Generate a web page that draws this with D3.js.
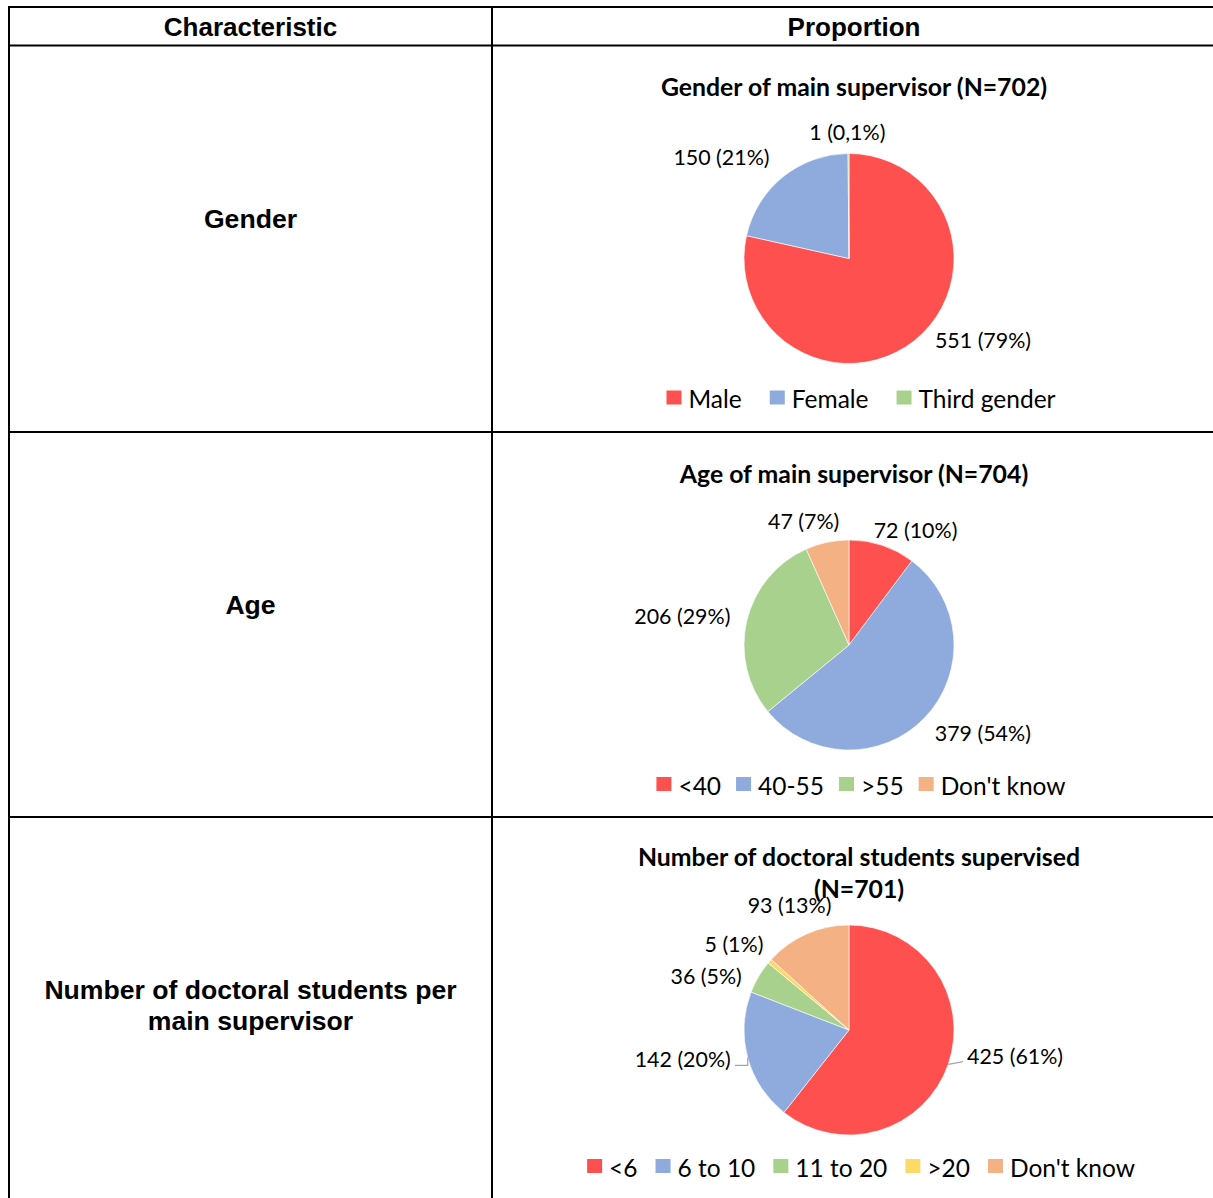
<!DOCTYPE html>
<html>
<head>
<meta charset="utf-8">
<script src="https://cdn.jsdelivr.net/npm/d3@7"></script>
<style>
  html, body { margin: 0; padding: 0; background: #fff; }
  svg { display: block; }
</style>
</head>
<body>
<svg id="chart" width="1213" height="1198"></svg>
<script>
// ---- Data ----
const headers = ["Characteristic", "Proportion"];
const rowLabels = [["Gender"], ["Age"], ["Number of doctoral students per", "main supervisor"]];

const genderTitle = ["Gender of main supervisor (N=702)"];
const genderCats = ["Male", "Female", "Third gender"];
const genderCounts = [551, 150, 1];
const genderLabels = ["551 (79%)", "150 (21%)", "1 (0,1%)"];

const ageTitle = ["Age of main supervisor (N=704)"];
const ageCats = ["<40", "40-55", ">55", "Don't know"];
const ageCounts = [72, 379, 206, 47];
const ageLabels = ["72 (10%)", "379 (54%)", "206 (29%)", "47 (7%)"];

const studentsTitle = ["Number of doctoral students supervised", "(N=701)"];
const studentsCats = ["<6", "6 to 10", "11 to 20", ">20", "Don't know"];
const studentsCounts = [425, 142, 36, 5, 93];
const studentsLabels = ["425 (61%)", "142 (20%)", "36 (5%)", "5 (1%)", "93 (13%)"];

// ---- Palette (Office-style) ----
const RED = "#ff5050", BLUE = "#8faadc", GREEN = "#a9d18e", YELLOW = "#ffd966", ORANGE = "#f4b183";

// ---- Layout ----
const svg = d3.select("#chart");
const tableLeft = 9, colSplit = 492, tableRight = 1216;
const headerTop = 7, headerBottom = 45.5;
const rowBounds = [[45.5, 432], [432, 817], [817, 1233]];
const pieCx = 849, radius = 105;
const legendCx = 861;

// Hand-placed label offsets, relative to the automatic outside-end position
const charts = [
  { title: genderTitle, cats: genderCats, counts: genderCounts, labels: genderLabels,
    colors: [RED, BLUE, GREEN],
    titleX: 854, titleY: 41, pieY: 213, legendY: 352, legendGap: 28,
    nudges: [[32, -18], [-25, -3], [-1, 0]], leaders: [false, false, false] },
  { title: ageTitle, cats: ageCats, counts: ageCounts, labels: ageLabels,
    colors: [RED, BLUE, GREEN, ORANGE],
    titleX: 854, titleY: 41, pieY: 213, legendY: 352, legendGap: 15,
    nudges: [[17, 5], [16, 0], [-8, 0], [-14, 0]], leaders: [false, false, false, false] },
  { title: studentsTitle, cats: studentsCats, counts: studentsCounts, labels: studentsLabels,
    colors: [RED, BLUE, GREEN, YELLOW, ORANGE],
    titleX: 859, titleY: 39, pieY: 213, legendY: 349, legendGap: 18,
    nudges: [[12, -16], [-9, -4], [-13, 10], [-6, -3], [4, -9]], leaders: [true, true, false, false, false] }
];

const labelFont = "Lato, 'Open Sans', sans-serif";
const tableFont = "'Liberation Sans', Arial, sans-serif";

// ---- Table grid ----
const grid = svg.append("g").attr("stroke", "#000").attr("stroke-width", 2);
const hLines = [headerTop, headerBottom, rowBounds[0][1], rowBounds[1][1]];
grid.selectAll("line.h").data(hLines).join("line")
  .attr("x1", tableLeft - 1).attr("x2", tableRight).attr("y1", d => d).attr("y2", d => d);
grid.selectAll("line.v").data([tableLeft, colSplit]).join("line")
  .attr("x1", d => d).attr("x2", d => d).attr("y1", headerTop - 1).attr("y2", 1240);

// Header text
svg.selectAll("text.header").data(headers).join("text")
  .attr("x", (d, i) => i === 0 ? (tableLeft + colSplit) / 2 : (colSplit + tableRight) / 2)
  .attr("y", (headerTop + headerBottom) / 2 + 1)
  .attr("text-anchor", "middle").attr("dominant-baseline", "central")
  .style("font-family", tableFont).style("font-weight", "bold").style("font-size", "26px")
  .text(d => d);

// Row labels
rowLabels.forEach((lines, i) => {
  const [top, bottom] = rowBounds[i];
  const mid = (top + bottom) / 2 - 20;
  const lh = 31;
  const t = svg.append("text")
    .attr("text-anchor", "middle")
    .style("font-family", tableFont).style("font-weight", "bold").style("font-size", "26.6px");
  lines.forEach((ln, j) => {
    t.append("tspan").attr("x", (tableLeft + colSplit) / 2)
      .attr("y", mid + (j - (lines.length - 1) / 2) * lh)
      .attr("dominant-baseline", "central").text(ln);
  });
});

// ---- Pies ----
const pie = d3.pie().sort(null).value(d => d.value);
const arc = d3.arc().innerRadius(0).outerRadius(radius);

charts.forEach((c, ci) => {
  const top = rowBounds[ci][0];
  const g = svg.append("g");
  const color = d3.scaleOrdinal().domain(c.cats).range(c.colors);

  // Title
  const title = g.append("text").attr("text-anchor", "middle")
    .style("font-family", labelFont).style("font-weight", "bold").style("font-size", "24.8px")
    .attr("fill", "#000");
  c.title.forEach((ln, j) => {
    title.append("tspan").attr("x", c.titleX).attr("y", top + c.titleY + j * 32)
      .attr("dominant-baseline", "central").text(ln);
  });

  const data = c.cats.map((cat, i) => ({ cat, value: c.counts[i], label: c.labels[i], i }));
  const arcs = pie(data);
  const cy = top + c.pieY;
  const pg = g.append("g").attr("transform", `translate(${pieCx},${cy})`);

  pg.selectAll("path").data(arcs).join("path")
    .attr("d", arc)
    .attr("fill", d => color(d.data.cat))
    .attr("stroke", "#fff").attr("stroke-width", 0.6);

  // Data labels placed outside each slice
  const gap = 10;
  arcs.forEach(a => {
    const mid = (a.startAngle + a.endAngle) / 2;
    const sx = Math.sin(mid), sy = -Math.cos(mid);
    const ax = sx * (radius + gap), ay = sy * (radius + gap);
    const txt = pg.append("text")
      .attr("text-anchor", "middle").attr("dominant-baseline", "central")
      .style("font-family", labelFont).style("font-size", "21.4px").attr("fill", "#000")
      .text(a.data.label);
    const w = txt.node().getComputedTextLength();
    const h = 24;
    const nd = c.nudges[a.data.i];
    const lx = ax + sx * w / 2 + nd[0];
    const ly = ay + sy * h / 2 + nd[1];
    txt.attr("x", lx).attr("y", ly);

    if (c.leaders[a.data.i]) {
      const px = sx * radius, py = sy * radius;
      const edgeX = sx > 0 ? lx - w / 2 - 4 : lx + w / 2 + 4;
      const ey = ly + 6;
      pg.append("polyline")
        .attr("points", sx > 0
          ? `${px},${py} ${edgeX},${ey}`
          : `${px},${py} ${px},${ey} ${edgeX},${ey}`)
        .attr("fill", "none").attr("stroke", "#a6a6a6").attr("stroke-width", 1.2);
    }
  });

  // Legend
  const ly = top + c.legendY;
  const lg = g.append("g");
  const sw = 15, textGap = 7, itemGap = c.legendGap;
  const items = lg.selectAll("g.item").data(c.cats).join("g");
  items.append("rect").attr("width", sw).attr("height", 14).attr("y", ly - 7)
    .attr("fill", d => color(d));
  items.append("text").attr("x", sw + textGap).attr("y", ly + 1).attr("dominant-baseline", "central")
    .style("font-family", labelFont).style("font-size", "24.5px").attr("fill", "#000")
    .text(d => d);
  let xPos = 0;
  const offsets = [];
  items.each(function () {
    offsets.push(xPos);
    const tw = d3.select(this).select("text").node().getComputedTextLength();
    xPos += sw + textGap + tw + itemGap;
  });
  const total = xPos - itemGap;
  const startX = legendCx - total / 2;
  items.attr("transform", (d, i) => `translate(${startX + offsets[i]},0)`);
});
</script>
</body>
</html>
